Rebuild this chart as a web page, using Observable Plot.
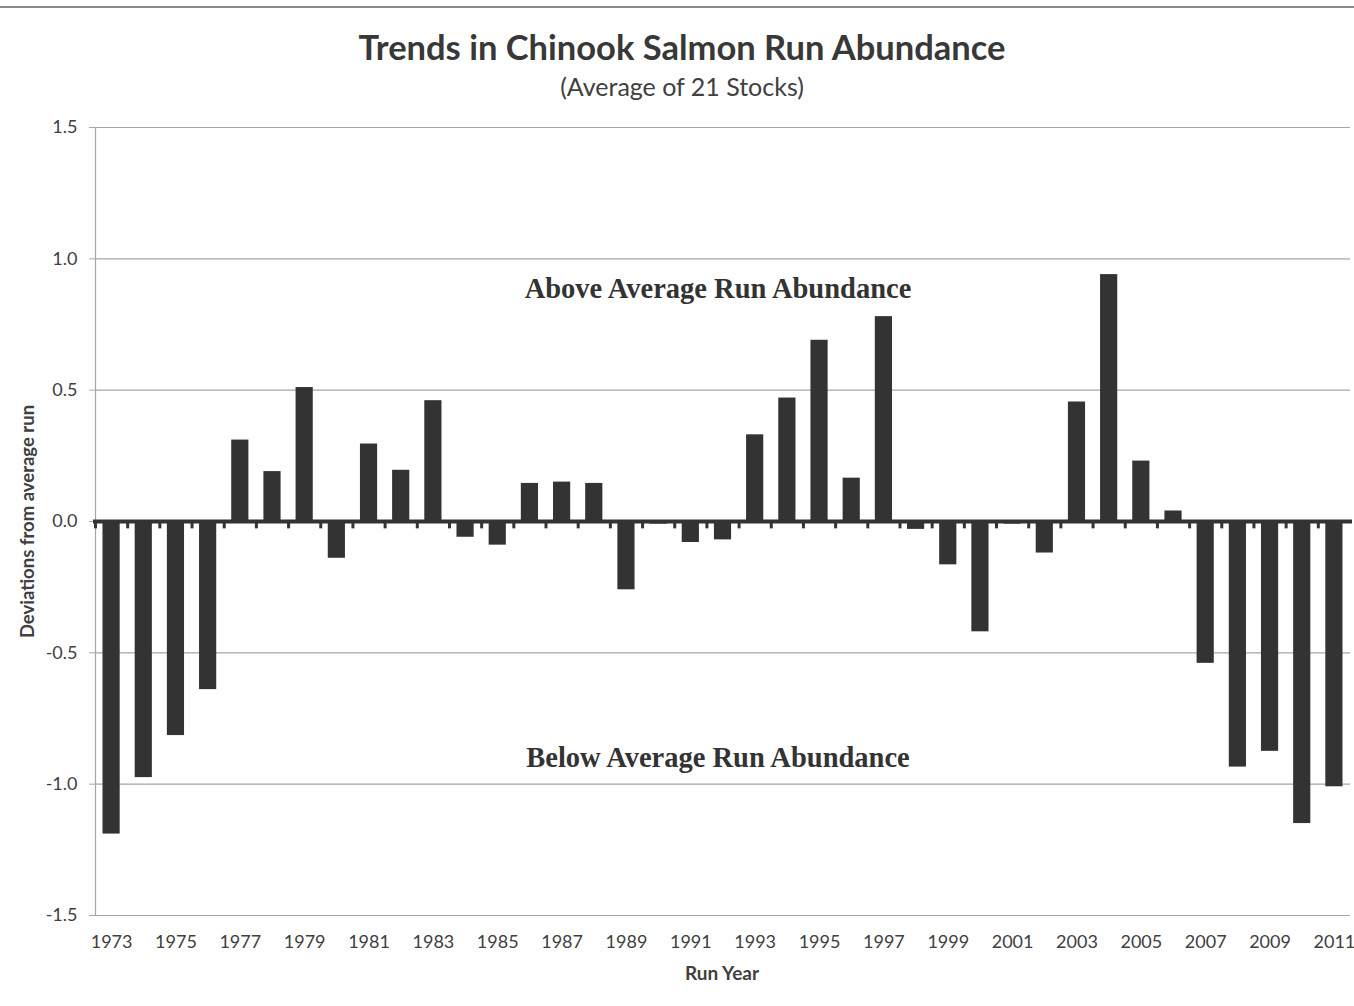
<!DOCTYPE html>
<html>
<head>
<meta charset="utf-8">
<script src="https://cdn.jsdelivr.net/npm/d3@7"></script>
<script src="https://cdn.jsdelivr.net/npm/@observablehq/plot@0.6"></script>
<style>
  html, body { margin: 0; padding: 0; background: #fff; }
  #wrap { position: relative; width: 1354px; height: 1006px; overflow: hidden; }
  #topline { position: absolute; left: 0; top: 6px; width: 1354px; height: 2px; background: #8a8a8a; }
  #title { position: absolute; left: 0; top: 26px; width: 1364px; text-align: center;
           font-family: Lato, "Open Sans", sans-serif; font-weight: bold; font-size: 34.5px; color: #383838; line-height: 42px; }
  #subtitle { position: absolute; left: 0; top: 71px; width: 1364px; text-align: center;
           font-family: Lato, "Open Sans", sans-serif; font-size: 25px; color: #404040; line-height: 30px; }
  #chart { position: absolute; left: 0; top: 110px; }
</style>
</head>
<body>
<div id="wrap">
  <div id="topline"></div>
  <div id="title">Trends in Chinook Salmon Run Abundance</div>
  <div id="subtitle">(Average of 21 Stocks)</div>
  <div id="chart"></div>
</div>
<script>
const years = [1973,1974,1975,1976,1977,1978,1979,1980,1981,1982,1983,1984,1985,1986,1987,1988,1989,1990,1991,1992,1993,1994,1995,1996,1997,1998,1999,2000,2001,2002,2003,2004,2005,2006,2007,2008,2009,2010,2011];
const deviations = [-1.19,-0.975,-0.815,-0.64,0.31,0.19,0.51,-0.14,0.295,0.195,0.46,-0.06,-0.09,0.145,0.15,0.145,-0.26,-0.01,-0.08,-0.07,0.33,0.47,0.69,0.165,0.78,-0.03,-0.165,-0.42,-0.01,-0.12,0.455,0.94,0.23,0.04,-0.54,-0.935,-0.875,-1.15,-1.01];
const yTicks = [-1.5,-1.0,-0.5,0.0,0.5,1.0,1.5];
const xTickYears = [1973,1975,1977,1979,1981,1983,1985,1987,1989,1991,1993,1995,1997,1999,2001,2003,2005,2007,2009,2011];
const annotationTexts = ["Above Average Run Abundance","Below Average Run Abundance"];
const annotationY = [0.885,-0.9];
const yAxisTitle = "Deviations from average run";
const xAxisTitle = "Run Year";

const data = years.map((year, i) => ({year, value: deviations[i]}));
const annotations = annotationTexts.map((text, i) => ({text, y: annotationY[i]}));

const chart = Plot.plot({
  width: 1354,
  height: 896,
  marginTop: 17,
  marginBottom: 91,
  marginLeft: 95,
  marginRight: 4,
  style: {fontFamily: "Lato, sans-serif", fontSize: "18px", color: "#404040", background: "#fff"},
  x: {type: "band", domain: years, padding: 0, round: false, axis: null},
  y: {domain: [-1.5, 1.5], axis: null},
  marks: [
    Plot.ruleY(yTicks, {stroke: "#a6a6a6", strokeWidth: 1.2}),
    Plot.frame({anchor: "left", stroke: "#a6a6a6", strokeWidth: 1.2}),
    Plot.axisY({ticks: yTicks, tickSize: 6, tickPadding: 12, tickFormat: d => d.toFixed(1), label: null, stroke: "#a6a6a6", fill: "#404040", fontSize: 18}),
    Plot.barY(data, {x: "year", y: "value", fill: "#333333", insetLeft: 7.5, insetRight: 7.5}),
    Plot.ruleY([0], {stroke: "#333333", strokeWidth: 4, insetLeft: -2, insetRight: -2}),
    Plot.ruleX(years, {x: d => d, y1: 0, y2: -0.028, dx: -16.09, stroke: "#333333", strokeWidth: 3}),
    Plot.axisX({ticks: xTickYears, tickSize: 0, tickPadding: 20, tickFormat: d => String(d), label: null, fill: "#404040", fontSize: 18}),
    Plot.text(annotations, {y: "y", text: "text", frameAnchor: "middle", dx: -5, fontFamily: "Liberation Serif, serif", fontWeight: "bold", fontSize: 28.5, fill: "#333333"}),
    Plot.text([yAxisTitle], {text: d => d, frameAnchor: "left", textAnchor: "middle", lineAnchor: "middle", dx: -67, rotate: -90, fontWeight: "bold", fontSize: 18.5, fill: "#404040"}),
    Plot.text([xAxisTitle], {text: d => d, frameAnchor: "bottom", lineAnchor: "middle", dy: 58, dx: -1, fontWeight: "bold", fontSize: 19, fill: "#404040"})
  ]
});
document.getElementById("chart").appendChild(chart);
</script>
</body>
</html>
